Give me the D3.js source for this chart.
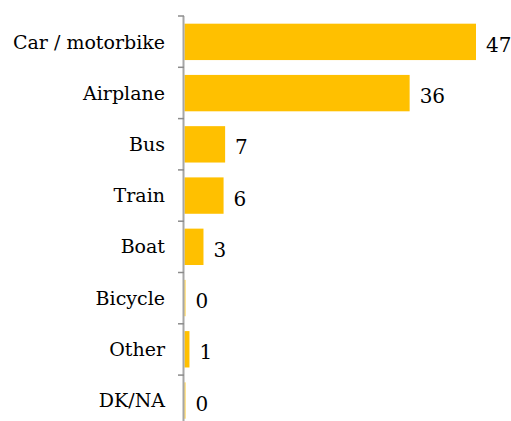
<!DOCTYPE html>
<html><head><meta charset="utf-8">
<script src="https://cdn.jsdelivr.net/npm/d3@7"></script>
<style>body{margin:0;background:#fff}svg{display:block}</style>
</head><body>
<script>
const categories = ["Car / motorbike","Airplane","Bus","Train","Boat","Bicycle","Other","DK/NA"];
const values = [47, 36.3, 6.55, 6.3, 3.06, 0.15, 0.8, 0.15];
const labels = ["47","36","7","6","3","0","1","0"];

(function(){
const W = 511, H = 421;
const x0 = 184.5, topY = 16, step = 51.3;
const svg = d3.select("body").append("svg").attr("width", W).attr("height", H);
const x = d3.scaleLinear().domain([0, 47]).range([x0, 476]);
const y = d3.scaleBand().domain(categories).range([topY, topY + step * categories.length]).paddingInner(0.29).paddingOuter(0.15);

svg.selectAll("rect.bar").data(categories).join("rect")
  .attr("x", x(0)).attr("y", d => y(d))
  .attr("width", (d,i) => x(values[i]) - x(0))
  .attr("height", y.bandwidth())
  .attr("fill", "#FFC000");

const bounds = d3.range(categories.length + 1).map(i => topY + i * step);
svg.append("line").attr("x1", 183.5).attr("x2", 183.5).attr("y1", topY).attr("y2", H)
  .attr("stroke", "#a6a6a6").attr("stroke-width", 2);
svg.selectAll("line.tick").data(bounds).join("line")
  .attr("x1", 178).attr("x2", 184).attr("y1", d => d).attr("y2", d => d)
  .attr("stroke", "#8c8c8c").attr("stroke-width", 1.5);

const font = "DejaVu Serif";
svg.selectAll("text.cat").data(categories).join("text")
  .attr("x", 165).attr("y", d => y(d) + y.bandwidth()/2)
  .attr("dy", "0.35em").attr("text-anchor", "end")
  .style("font-family", font).style("font-size", "19px").attr("fill", "#000")
  .text(d => d);
svg.selectAll("text.val").data(categories).join("text")
  .attr("x", (d,i) => x(values[i]) + 10).attr("y", d => y(d) + y.bandwidth()/2 + 3)
  .attr("dy", "0.35em")
  .style("font-family", font).style("font-size", "20px").attr("fill", "#000")
  .text((d,i) => labels[i]);
})();
</script>
</body></html>
